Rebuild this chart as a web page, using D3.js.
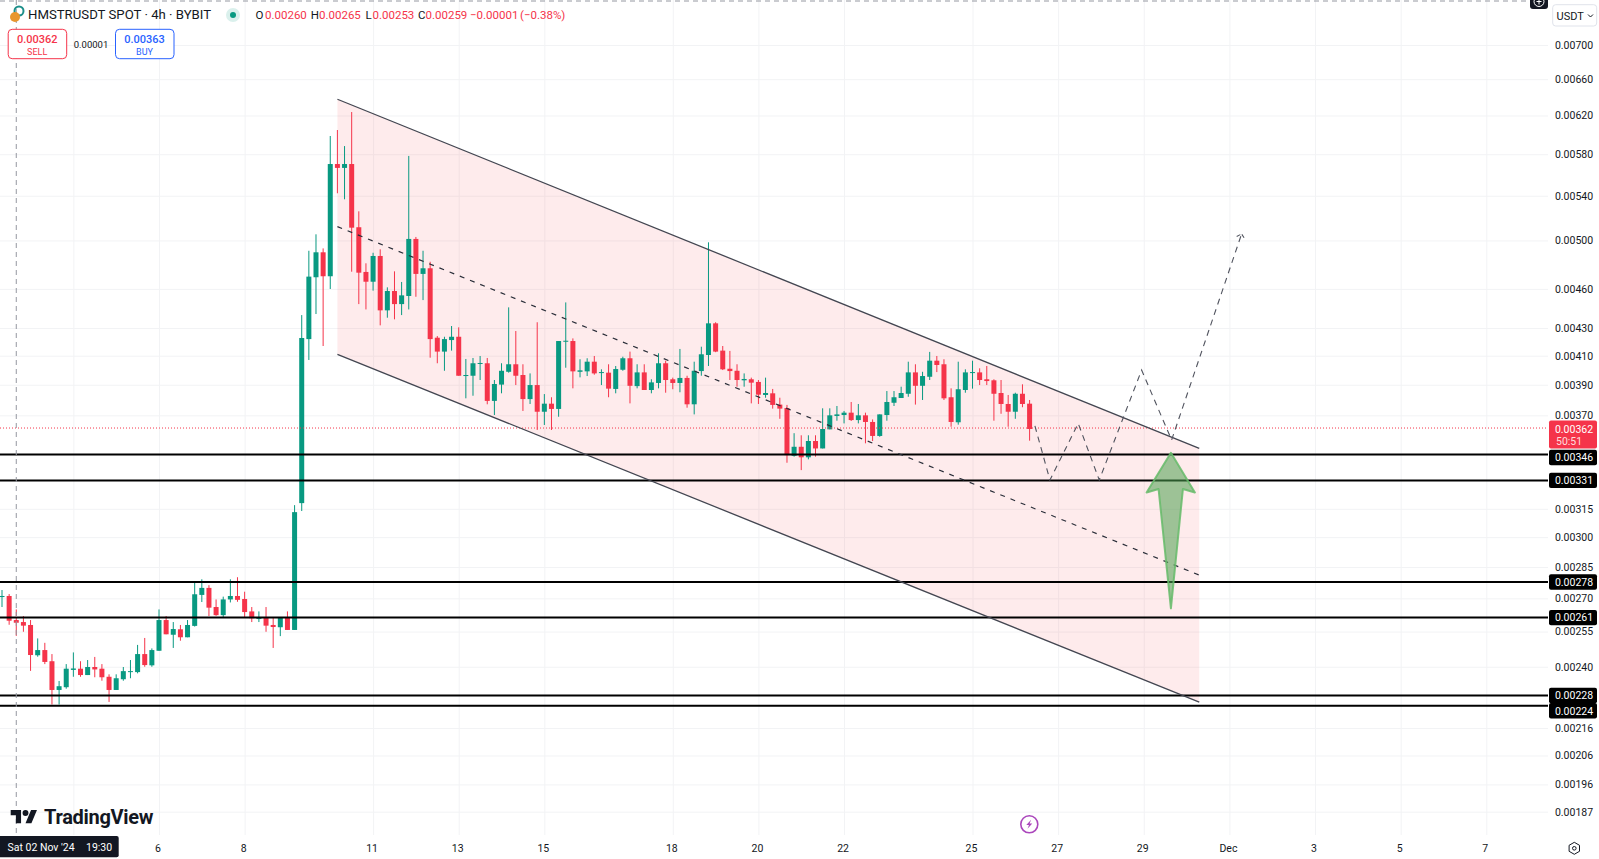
<!DOCTYPE html>
<html>
<head>
<meta charset="utf-8">
<title>HMSTRUSDT 4h</title>
<script src="https://cdn.jsdelivr.net/npm/d3@7"></script>
<style>
  html, body { margin: 0; padding: 0; background: #fff; overflow: hidden; }
  svg { display: block; }
  text { font-family: Roboto, "Open Sans", sans-serif; fill: #131722; }
</style>
</head>
<body>
<div id="chart"></div>
<script>
/* prices are in units of 0.00001 */
const candleOpen = [
  270.6,271.1,260.1,259.2,257.9,244.8,247.0,242.3,230.6,231.7,
  238.7,239.2,236.6,239.9,239.2,235.9,230.6,234.9,237.8,237.8,
  245.3,240.6,246.7,260.1,253.6,256.0,252.5,257.5,271.6,274.9,
  266.0,262.3,269.5,271.1,269.7,264.0,260.7,261.1,257.9,256.9,
  261.1,255.7,318.1,421.9,469.3,489.9,470.1,570.3,566.5,570.3,
  511.5,473.6,465.7,486.8,443.3,458.3,448.1,454.4,501.3,472.0,
  476.6,422.9,412.9,421.2,423.6,395.9,396.1,404.2,404.7,379.3,
  390.1,398.8,404.0,396.6,380.5,389.8,372.3,377.5,374.1,420.0,
  420.5,398.8,399.1,405.8,398.0,398.2,387.2,400.2,408.2,389.1,
  398.4,386.5,391.2,404.7,393.7,391.2,394.6,377.1,399.3,410.5,
  433.5,413.6,400.9,399.5,393.0,393.7,391.9,383.2,384.3,376.9,
  374.7,345.1,350.5,344.2,354.0,349.5,361.2,369.6,370.2,371.7,
  367.0,370.0,365.8,357.1,370.2,378.1,381.2,384.0,398.4,389.3,
  395.4,406.5,404.0,381.7,365.6,386.5,398.0,398.4,393.7,393.0,
  384.5,377.3,372.3,384.0,377.5];
const candleHigh = [
  273.9,272.0,264.9,261.9,260.1,252.0,250.1,245.3,234.2,241.1,
  246.0,242.3,242.8,244.1,241.1,236.9,236.9,239.9,242.8,249.2,
  252.2,247.7,264.9,261.9,259.2,257.9,260.1,277.7,279.0,276.2,
  269.5,270.8,279.0,280.0,273.1,266.0,264.0,266.0,261.1,261.1,
  264.0,317.0,439.7,491.2,505.3,493.2,598.5,604.7,588.2,623.7,
  525.7,480.7,489.5,492.4,461.2,474.1,465.5,578.3,503.0,491.2,
  482.0,424.1,423.6,431.5,430.5,407.7,408.4,409.8,408.4,393.2,
  404.7,445.6,427.8,404.0,397.7,434.3,383.8,381.7,420.5,449.4,
  422.4,407.5,408.2,409.8,400.5,404.0,402.8,409.3,412.9,404.0,
  404.0,393.7,411.7,406.5,394.8,414.8,396.1,405.8,416.4,498.4,
  434.3,416.9,413.4,404.0,397.7,394.8,393.2,394.8,387.2,381.4,
  376.7,358.8,357.5,357.5,357.5,374.5,374.5,376.0,372.8,378.6,
  377.3,371.7,367.4,370.6,385.8,385.8,388.7,405.8,404.0,398.8,
  412.7,409.8,407.5,387.6,405.8,400.5,406.5,401.2,402.8,393.7,
  393.2,383.2,384.7,390.3,379.9];
const candleLow = [
  266.0,258.0,253.1,254.9,238.3,244.2,241.1,224.9,224.9,231.1,
  235.9,235.9,236.6,235.7,234.3,225.9,230.6,234.3,235.3,237.3,
  240.0,240.0,246.7,253.8,247.9,251.0,252.5,257.2,268.3,261.9,
  262.0,261.0,268.1,268.4,261.1,259.2,259.2,254.9,247.9,253.0,
  255.7,255.7,313.8,407.0,440.5,416.9,459.9,542.3,536.7,473.8,
  448.1,444.0,458.6,432.0,437.7,436.5,439.7,444.0,453.8,451.2,
  408.6,404.7,399.5,413.6,396.1,381.0,382.7,393.2,377.1,370.2,
  384.3,398.2,389.8,372.8,377.3,360.8,363.9,360.8,369.1,401.6,
  387.6,395.0,395.9,396.8,389.8,381.7,384.3,399.5,377.7,387.6,
  386.5,384.3,387.6,384.7,387.0,385.0,374.9,370.6,396.1,402.8,
  412.5,400.0,393.2,388.7,388.7,377.7,377.3,381.4,374.3,367.8,
  341.0,344.6,336.7,343.0,344.6,349.5,361.2,366.6,364.9,366.4,
  364.9,352.6,354.0,356.6,366.6,376.0,381.2,382.0,376.9,379.9,
  393.2,398.6,379.9,362.8,364.1,384.7,387.4,389.8,389.8,366.6,
  371.0,362.8,367.8,375.2,354.2];
const candleClose = [
  271.1,259.8,258.9,257.6,244.9,247.0,242.0,230.6,232.1,239.2,
  239.3,236.6,239.9,238.9,235.7,230.6,235.3,238.2,238.2,245.3,
  240.7,247.0,260.1,253.8,256.1,252.5,257.9,271.9,274.9,265.7,
  262.3,269.5,271.1,269.3,263.7,260.9,261.0,257.6,257.0,261.1,
  255.7,313.2,422.7,469.8,489.9,470.1,570.3,566.5,570.3,511.1,
  473.0,465.7,486.8,443.3,458.3,448.1,454.9,501.3,472.0,476.6,
  421.9,412.9,421.9,423.6,396.1,396.6,404.7,404.9,379.3,390.5,
  399.5,404.0,396.1,380.5,389.8,372.3,377.5,374.1,420.5,420.7,
  399.1,399.8,405.8,397.7,398.6,387.4,400.7,408.2,389.3,398.4,
  386.5,391.6,404.7,393.2,391.2,394.6,377.1,399.5,411.0,433.5,
  412.9,400.5,399.3,393.2,393.9,391.4,383.4,384.5,376.7,374.3,
  345.5,350.5,344.2,354.0,349.5,361.4,370.0,370.6,371.7,367.0,
  370.0,365.8,357.1,370.6,378.6,381.7,384.5,398.4,389.3,395.9,
  406.5,403.5,381.0,365.8,387.0,398.4,398.6,393.2,392.5,384.0,
  377.3,372.3,384.0,377.3,361.4];

const priceTicks = [700,660,620,580,540,500,460,430,410,390,370,315,300,285,270,255,240,216,206,196,187];
const levels = [345.9,330.8,277.7,261.2,228.4,224.4];
const levelNudge = [3,0,0,0,0,5];   // axis label pushed down where boxes collide
const lastPrice = 362;

const novDays = [4,6,8,11,13,15,18,20,22,25,27,29];
const decDays = [1,3,5,7];

// drawing anchors: days after 6 Nov 00:00, and price
const channelDays = [4.167, 24.296];
const channelTop = [637.6, 349.5];
const channelMid = [512.0, 281.0];
const channelBottom = [411.0, 225.8];
const forecastDays = [20.458, 20.808, 21.469, 21.96, 22.95, 23.65, 25.285];
const forecastPrices = [363.3, 331.0, 364.9, 331.0, 400.0, 354.6, 505.6];
const forecastHeadDays = [25.17, 25.285, 25.36];
const forecastHeadPrices = [503.5, 505.6, 501.3];
const arrowDays = [23.634, 24.194, 23.914, 23.634, 23.346, 23.066];
const arrowPrices = [346.9, 324.0, 325.9, 265.4, 325.9, 324.0];

const WIDTH = 1599, HEIGHT = 859;
const axisX = 1548, paneBottom = 835;
const RED = '#f5344a', GREEN = '#089981';

const nov6 = Date.UTC(2024, 10, 6);
const DAY = 864e5;
const firstCandle = Date.UTC(2024, 10, 2, 8);
const fmtPrice = v => (v / 1e5).toFixed(5);

const x = d3.scaleUtc().domain([new Date(nov6), new Date(Date.UTC(2024, 11, 7))]).range([159, 1486.3]);
const y = d3.scaleLog().domain([700, 187]).range([45, 811.7]);
const xd = d => x(new Date(nov6 + d * DAY));

const candles = candleOpen.map((o, i) => ({
  t: new Date(firstCandle + i * 4 * 36e5),
  o, h: candleHigh[i], l: candleLow[i], c: candleClose[i]
}));
const dayTicks = [
  ...novDays.map(d => new Date(Date.UTC(2024, 10, d))),
  ...decDays.map(d => new Date(Date.UTC(2024, 11, d)))
];

const svg = d3.select('#chart').append('svg').attr('width', WIDTH).attr('height', HEIGHT);
svg.append('rect').attr('width', WIDTH).attr('height', HEIGHT).attr('fill', '#fff');

/* ---- grid ---- */
const gridH = svg.append('g').attr('transform', `translate(${axisX},0)`)
  .call(d3.axisLeft(y).tickValues(priceTicks).tickSize(axisX).tickFormat(''));
const gridV = svg.append('g').attr('transform', `translate(0,${paneBottom})`)
  .call(d3.axisBottom(x).tickValues(dayTicks).tickSize(-paneBottom).tickFormat(''));
[gridH, gridV].forEach(g => {
  g.select('.domain').remove();
  g.selectAll('line').attr('stroke', '#f2f3f5').attr('stroke-width', 1);
});

/* ---- channel fill ---- */
const line = d3.line();
svg.append('path')
  .attr('d', line([
    [xd(channelDays[0]), y(channelTop[0])], [xd(channelDays[1]), y(channelTop[1])],
    [xd(channelDays[1]), y(channelBottom[1])], [xd(channelDays[0]), y(channelBottom[0])]
  ]) + 'Z')
  .attr('fill', 'rgba(242,54,69,0.1)');

/* ---- candles ---- */
const candleG = svg.append('g');
candleG.selectAll('line').data(candles).join('line')
  .attr('x1', d => x(d.t)).attr('x2', d => x(d.t))
  .attr('y1', d => y(d.h)).attr('y2', d => y(d.l))
  .attr('stroke', d => d.c >= d.o ? GREEN : RED).attr('stroke-width', 1);
candleG.selectAll('rect').data(candles).join('rect')
  .attr('x', d => x(d.t) - 2.5).attr('width', 5)
  .attr('y', d => y(Math.max(d.o, d.c)))
  .attr('height', d => Math.max(1, y(Math.min(d.o, d.c)) - y(Math.max(d.o, d.c))))
  .attr('fill', d => d.c >= d.o ? GREEN : RED);

/* ---- last price dotted line ---- */
svg.append('line').attr('x1', 0).attr('x2', axisX)
  .attr('y1', y(lastPrice)).attr('y2', y(lastPrice))
  .attr('stroke', RED).attr('stroke-width', 1).attr('stroke-dasharray', '1 2');

/* ---- horizontal levels ---- */
svg.append('g').selectAll('line').data(levels).join('line')
  .attr('x1', 0).attr('x2', axisX)
  .attr('y1', d => y(d)).attr('y2', d => y(d))
  .attr('stroke', '#000').attr('stroke-width', 2);

/* ---- channel lines ---- */
const channelLine = (prices, dash) => svg.append('path')
  .attr('d', line(channelDays.map((d, i) => [xd(d), y(prices[i])])))
  .attr('fill', 'none').attr('stroke', dash ? '#2a2e39' : '#434651')
  .attr('stroke-width', dash ? 1.2 : 1.3)
  .attr('stroke-dasharray', dash || null);
channelLine(channelTop);
channelLine(channelBottom);
channelLine(channelMid, '5 6');

/* ---- forecast path ---- */
svg.append('path')
  .attr('d', line(forecastDays.map((d, i) => [xd(d), y(forecastPrices[i])])))
  .attr('fill', 'none').attr('stroke', '#50535e').attr('stroke-width', 1.1).attr('stroke-dasharray', '6 5');
svg.append('path')
  .attr('d', line(forecastHeadDays.map((d, i) => [xd(d), y(forecastHeadPrices[i])])))
  .attr('fill', 'none').attr('stroke', '#50535e').attr('stroke-width', 1.1).attr('stroke-dasharray', '4 2');

/* ---- arrow ---- */
svg.append('path')
  .attr('d', line(arrowDays.map((d, i) => [xd(d), y(arrowPrices[i])])) + 'Z')
  .attr('fill', 'rgba(76,160,80,0.55)')
  .attr('stroke', 'rgba(102,187,106,0.85)').attr('stroke-width', 2).attr('stroke-linejoin', 'round');

/* ---- crosshair ---- */
const crossX = x(new Date(Date.UTC(2024, 10, 2, 16)));
svg.append('line').attr('x1', crossX).attr('x2', crossX).attr('y1', 0).attr('y2', paneBottom)
  .attr('stroke', '#9598a1').attr('stroke-width', 1).attr('stroke-dasharray', '5 4');
svg.append('line').attr('x1', 0).attr('x2', axisX).attr('y1', 1).attr('y2', 1)
  .attr('stroke', '#9598a1').attr('stroke-width', 1).attr('stroke-dasharray', '5 4');

/* ---- watermark ---- */
const wm = svg.append('g').attr('transform', 'translate(10.7,804.8) scale(0.74)');
wm.append('path').attr('d', 'M14 25H7V14H0V7h14v18zM28 25h-8l7.5-18h8L28 25z').attr('fill', '#131722');
wm.append('circle').attr('cx', 20).attr('cy', 11).attr('r', 4).attr('fill', '#131722');
svg.append('text').attr('x', 44).attr('y', 823.5).text('TradingView')
  .attr('font-size', 20).attr('font-weight', 700).attr('letter-spacing', -0.3);

/* ---- lightning badge ---- */
const bolt = svg.append('g').attr('transform', 'translate(1029.3,824.3)');
bolt.append('circle').attr('r', 8.5).attr('fill', '#fff').attr('stroke', '#ab47bc').attr('stroke-width', 1.6);
bolt.append('path').attr('d', 'M1.8-4.5L-3 .8H-.3L-1.8 4.5L3-.8H.3Z').attr('fill', '#ab47bc');

/* ---- time axis ---- */
const timeAxis = svg.append('g').attr('transform', `translate(0,${paneBottom})`)
  .call(d3.axisBottom(x).tickValues(dayTicks).tickSize(0).tickPadding(10)
    .tickFormat(d => {
      if (d.getUTCMonth() === 10 && d.getUTCDate() === 4) return '';
      return d.getUTCMonth() === 11 && d.getUTCDate() === 1 ? 'Dec' : d.getUTCDate();
    }));
timeAxis.select('.domain').remove();
timeAxis.selectAll('text').attr('font-size', 10.5).attr('fill', '#131722').attr('dx', -1.5).style('font-family', 'Roboto');

svg.append('rect').attr('x', -3).attr('y', 836).attr('width', 121.7).attr('height', 21.3).attr('rx', 2).attr('fill', '#131722');
svg.append('text').attr('x', 7.5).attr('y', 851).attr('font-size', 10.5).style('fill', '#fff')
  .text("Sat 02 Nov '24");
svg.append('text').attr('x', 86).attr('y', 851).attr('font-size', 10.5).style('fill', '#fff').text('19:30');

/* ---- price axis ---- */
svg.append('rect').attr('x', axisX).attr('y', 0).attr('width', WIDTH - axisX).attr('height', HEIGHT).attr('fill', '#fff');
const priceAxis = svg.append('g').attr('transform', `translate(${axisX},0)`)
  .call(d3.axisRight(y).tickValues(priceTicks).tickSize(0).tickPadding(26).tickFormat(fmtPrice));
priceAxis.select('.domain').remove();
priceAxis.selectAll('text').attr('text-anchor', 'middle').attr('font-size', 10.5)
  .attr('fill', '#131722').style('font-family', 'Roboto');

// last price badge
svg.append('rect').attr('x', axisX + 1).attr('y', y(lastPrice) - 7.5).attr('width', 48).attr('height', 28).attr('rx', 2).attr('fill', RED);
svg.append('text').attr('x', axisX + 26).attr('y', y(lastPrice) + 4.5).attr('text-anchor', 'middle')
  .attr('font-size', 10.5).style('fill', '#fff').text(fmtPrice(lastPrice));
svg.append('text').attr('x', axisX + 8).attr('y', y(lastPrice) + 16.5)
  .attr('font-size', 10.5).style('fill', '#fdd').text('50:51');

// level badges
const badge = svg.append('g').selectAll('g').data(levels).join('g')
  .attr('transform', (d, i) => `translate(${axisX + 1},${y(d) + levelNudge[i]})`);
badge.append('rect').attr('x', 0).attr('y', -7.7).attr('width', 48).attr('height', 15.4).attr('rx', 2).attr('fill', '#000');
badge.append('text').attr('x', 25).attr('y', 3.8).attr('text-anchor', 'middle')
  .attr('font-size', 10.5).style('fill', '#fff').text(fmtPrice);

// currency selector
svg.append('rect').attr('x', 1552.7).attr('y', 4.7).attr('width', 44).attr('height', 21.3).attr('rx', 3)
  .attr('fill', '#fff').attr('stroke', '#e0e3eb');
svg.append('text').attr('x', 1556.5).attr('y', 19.5).attr('font-size', 11).text('USDT');
svg.append('path').attr('d', 'M1588 14.5l2.5 2.5l2.5-2.5').attr('fill', 'none').attr('stroke', '#131722');

// plus button on the top edge
svg.append('path').attr('d', 'M1530 0h18v6a3 3 0 0 1-3 3h-12a3 3 0 0 1-3-3z').attr('fill', '#131722');
svg.append('circle').attr('cx', 1539).attr('cy', 1.5).attr('r', 5).attr('fill', 'none').attr('stroke', '#fff');
svg.append('path').attr('d', 'M1539 0v4.5M1536.5 1.5h5').attr('stroke', '#fff');

// settings gear
svg.append('path').attr('d', 'M1574.3 842.3l5.2 3v6l-5.2 3l-5.2-3v-6z').attr('fill', 'none').attr('stroke', '#131722');
svg.append('circle').attr('cx', 1574.3).attr('cy', 848.3).attr('r', 1.8).attr('fill', 'none').attr('stroke', '#131722');

/* ---- legend ---- */
svg.append('circle').attr('cx', 19).attr('cy', 11).attr('r', 4.5).attr('fill', 'none').attr('stroke', '#1c8f8a').attr('stroke-width', 2);
svg.append('circle').attr('cx', 15).attr('cy', 17).attr('r', 5).attr('fill', '#e8962e');
svg.append('text').attr('x', 28).attr('y', 19.3).attr('font-size', 13.2).text('HMSTRUSDT SPOT · 4h · BYBIT');
svg.append('circle').attr('cx', 233).attr('cy', 15).attr('r', 7).attr('fill', '#089981').attr('opacity', 0.15);
svg.append('circle').attr('cx', 233).attr('cy', 15).attr('r', 3).attr('fill', '#089981');

const legendBits = [
  [255.6, 'O', '#131722'], [265, '0.00260', RED],
  [310.8, 'H', '#131722'], [319, '0.00265', RED],
  [365.5, 'L', '#131722'], [372.5, '0.00253', RED],
  [418, 'C', '#131722'], [425.5, '0.00259', RED],
  [470, '−0.00001', RED], [520, '(−0.38%)', RED]
];
svg.append('g').selectAll('text').data(legendBits).join('text')
  .attr('x', d => d[0]).attr('y', 19).attr('font-size', 11.5)
  .style('fill', d => d[2]).text(d => d[1]);

/* ---- sell / buy ---- */
const orderBox = (bx, color, price, label) => {
  svg.append('rect').attr('x', bx).attr('y', 29.3).attr('width', 58.5).attr('height', 29.4).attr('rx', 4)
    .attr('fill', '#fff').attr('stroke', color);
  svg.append('text').attr('x', bx + 29).attr('y', 43).attr('text-anchor', 'middle')
    .attr('font-size', 11).attr('font-weight', 500).style('fill', color).text(price);
  svg.append('text').attr('x', bx + 29).attr('y', 54.5).attr('text-anchor', 'middle')
    .attr('font-size', 9).style('fill', color).text(label);
};
orderBox(8.2, RED, '0.00362', 'SELL');
orderBox(115.5, '#2962ff', '0.00363', 'BUY');
svg.append('text').attr('x', 91).attr('y', 47.5).attr('text-anchor', 'middle').attr('font-size', 9.5).text('0.00001');
</script>
</body>
</html>
